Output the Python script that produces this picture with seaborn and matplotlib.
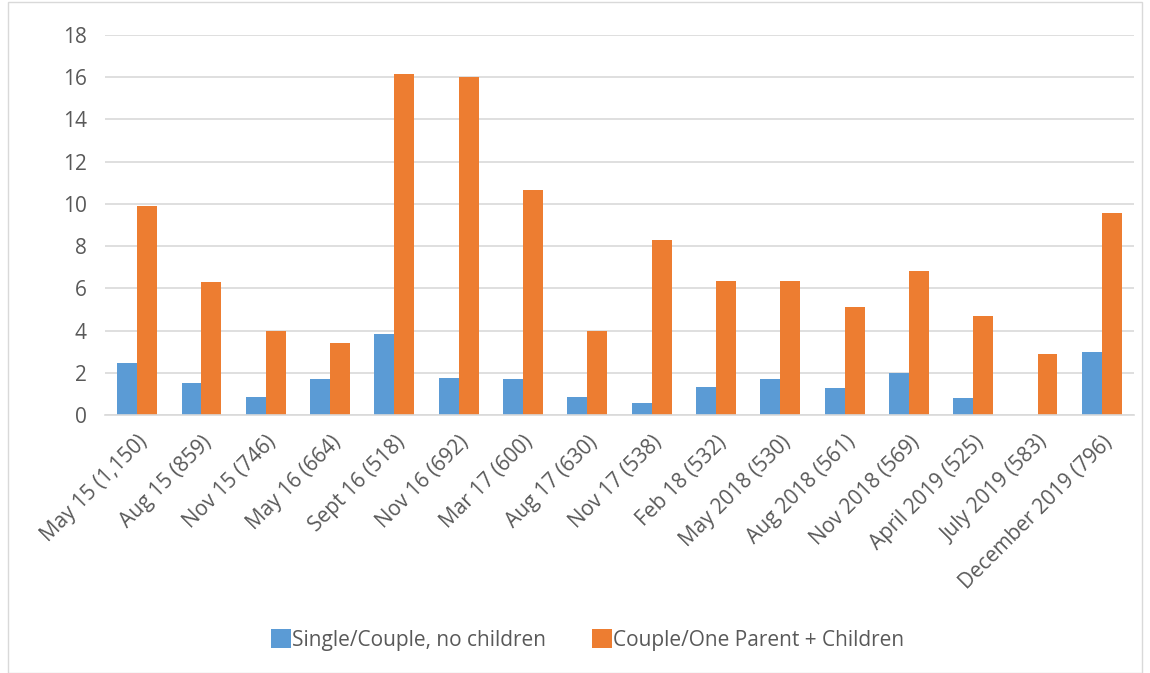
import matplotlib.pyplot as plt
import pandas as pd
import seaborn as sns
from matplotlib.patches import Rectangle

periods = [
    "May 15 (1,150)", "Aug 15 (859)", "Nov 15 (746)", "May 16 (664)",
    "Sept 16 (518)", "Nov 16 (692)", "Mar 17 (600)", "Aug 17 (630)",
    "Nov 17 (538)", "Feb 18 (532)", "May 2018 (530)", "Aug 2018 (561)",
    "Nov 2018 (569)", "April 2019 (525)", "July 2019 (583)", "December 2019 (796)",
]
no_children = [2.45, 1.5, 0.87, 1.71, 3.85, 1.76, 1.71, 0.87,
               0.59, 1.33, 1.71, 1.29, 1.97, 0.79, 0.0, 2.98]
with_children = [9.88, 6.3, 4.0, 3.43, 16.15, 16.0, 10.64, 4.0,
                 8.31, 6.36, 6.36, 5.13, 6.83, 4.71, 2.88, 9.56]
series_names = ["Single/Couple, no children", "Couple/One Parent + Children"]
colors = ["#5B9BD5", "#ED7D31"]
y_ticks = list(range(0, 19, 2))

df = pd.DataFrame({
    "period": periods * 2,
    "value": no_children + with_children,
    "group": [series_names[0]] * len(periods) + [series_names[1]] * len(periods),
})

sns.set_theme(style="white")
plt.rcParams["font.family"] = ["Open Sans", "DejaVu Sans"]
text_color = "#595959"
fs = 15

fig = plt.figure(figsize=(11.5, 6.73), dpi=100)
ax = fig.add_axes([105 / 1150, 1 - 415 / 673, (1134 - 105) / 1150, 380 / 673])

sns.barplot(data=df, x="period", y="value", hue="group", hue_order=series_names,
            palette=colors, width=0.62, saturation=1, linewidth=0, ax=ax, legend=True)

ax.set_ylim(0, 18)
ax.set_xlim(-0.5, len(periods) - 0.5)
ax.set_yticks(y_ticks)
ax.yaxis.grid(True, color="#D9D9D9", linewidth=1.2)
ax.set_axisbelow(True)
ax.set_xlabel("")
ax.set_ylabel("")
for side in ["top", "right", "left"]:
    ax.spines[side].set_visible(False)
ax.spines["bottom"].set_color("#D9D9D9")
ax.spines["bottom"].set_linewidth(1.2)
ax.tick_params(axis="y", length=0, pad=13, labelsize=fs, labelcolor=text_color)
ax.tick_params(axis="x", length=0, pad=12, labelsize=fs, labelcolor=text_color)
plt.setp(ax.get_xticklabels(), rotation=45, ha="right", rotation_mode="anchor")

handles, labels = ax.get_legend_handles_labels()
ax.get_legend().remove()
fig.legend(handles, labels, loc="center", bbox_to_anchor=(0.511, 1 - 640 / 673),
           ncol=2, frameon=False, fontsize=fs, labelcolor=text_color,
           handlelength=0.95, handleheight=1.0, handletextpad=0.05, columnspacing=2.2)

fig.patches.append(Rectangle((8 / 1150, 0), 1 - 16 / 1150, 1 - 2 / 673,
                             transform=fig.transFigure, fill=False,
                             edgecolor="#D9D9D9", linewidth=1))

fig.savefig("out.png", dpi=100)
